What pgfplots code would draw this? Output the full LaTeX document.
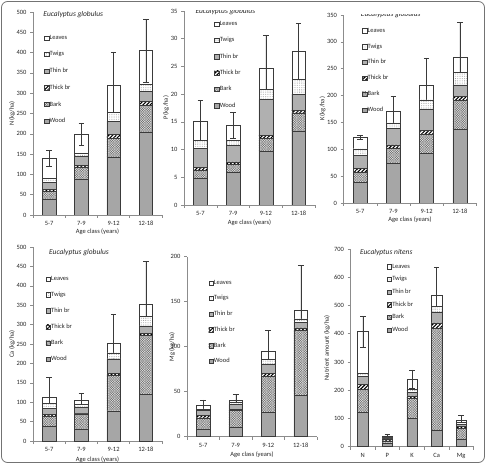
\documentclass[border=0pt]{standalone}
\usepackage{pgfplots}
\pgfplotsset{compat=1.18}
\usepackage{pgfplotstable}
\usepackage{fontspec}
\setmainfont{Carlito}
\usetikzlibrary{patterns,patterns.meta}

\definecolor{woodc}{HTML}{A6A6A6}
\definecolor{thinc}{HTML}{B0B0B0}
\definecolor{barkc}{HTML}{E2E2E2}
\definecolor{axisc}{HTML}{8C8C8C}
\definecolor{edgec}{HTML}{3A3A3A}

% segment heights per compartment (kg/ha), err = error of the total
\pgfplotstableread{
x wood bark thick thin twigs leaves err
0 40  19 5  17 10 48 20
1 88  29 5  22 7  49 27
2 143 46 9  33 21 68 82
3 205 65 10 24 17 84 78
}\tabN
\pgfplotstableread{
x wood bark thick thin twigs leaves err
0 4.8  1.4 0.6 3.4 1.5 3.5 3.7
1 5.9  1.4 0.5 2.9 0.9 2.8 2.3
2 9.7  2.3 0.6 6.4 1.9 3.8 6.0
3 13.3 3.3 0.5 2.9 2.7 5.0 5.1
}\tabP
\pgfplotstableread{
x wood bark thick thin twigs leaves err
0 39  18 7 25 12 21 4
1 74  28 6 31 10 22 27
2 92  36 7 40 17 28 50
3 137 54 7 22 23 28 65
}\tabK
\pgfplotstableread{
x wood bark thick thin twigs leaves err
0 38  26  5 16 12 17 50
1 30  40  2 15 7  11 17
2 78  91  6 37 15 26 73
3 121 151 6 19 25 31 110
}\tabCa
\pgfplotstableread{
x wood bark thick thin twigs leaves err
0 8  13 3 5  2 4  6
1 11 18 1 6  2 3  6
2 27 40 3 11 5 9  23
3 46 72 3 6  4 10 50
}\tabMg
\pgfplotstableread{
x wood bark thick thin twigs leaves err
0 122 81  18 27 12 148 55
1 14  7   7  3  2  5   7
2 100 71  9  13 10 37  32
3 60  360 18 39 20 40  100
4 27  39  5  9  5  10  15
}\tabNitens

\pgfplotsset{
  seg/.style={draw=edgec, line width=0.45pt},
  wood/.style={seg, fill=woodc},
  bark/.style={seg, fill=barkc,
    postaction={pattern={Hatch[angle=45,distance=1.7pt,line width=0.35pt]}, pattern color=black!55}},
  thick/.style={seg, fill=white,
    postaction={pattern={Lines[angle=45,distance=2.6pt,line width=1.1pt]}, pattern color=black}},
  thin/.style={seg, fill=thinc},
  twigs/.style={seg, fill=white,
    postaction={pattern={Dots[distance=1.8pt,radius=0.33pt]}, pattern color=black!55}},
  leaves/.style={seg, fill=white},
  panel/.style={
    scale only axis, anchor=south west,
    ybar stacked, bar width=0.42,
    ymin=0, xmin=-0.5,
    axis x line*=bottom, axis y line*=left,
    every outer x axis line/.append style={-},
    every outer y axis line/.append style={-},
    axis line style={axisc, line width=0.5pt},
    tick align=outside,
    major tick length=3bp, minor tick length=3bp,
    tick style={axisc, line width=0.5pt},
    major x tick style={draw=none},
    xtick pos=bottom, ytick pos=left,
    ticklabel style={font=\fontsize{6.5}{7}\selectfont, text=black!85},
    /pgf/number format/assume math mode=true,
    label style={font=\fontsize{6.5}{7}\selectfont, text=black!85},
    legend cell align=left,
    reverse legend,
    legend style={draw=none, fill=none, anchor=north west,
      font=\fontsize{6.5}{7}\selectfont, inner sep=0pt,
      nodes={inner sep=0.6bp, text=black!85}},
    legend image code/.code={\draw[##1] (0bp,-2.2bp) rectangle (4.4bp,2.2bp);},
    error bars/error bar style={edgec, line width=0.5pt},
    error bars/error mark options={edgec, rotate=90, mark size=2.8bp, line width=0.5pt},
  },
  fourcat/.style={xmax=3.5, xtick={0,1,2,3}, minor xtick={-0.5,0.5,1.5,2.5,3.5},
    xticklabels={5-7,7-9,9-12,12-18}, xlabel={Age class (years)}},
}

\newcommand{\stackbars}[1]{%
  \addplot[wood]  table[x=x,y=wood]{#1};
  \addplot[bark]  table[x=x,y=bark]{#1};
  \addplot[thick] table[x=x,y=thick]{#1};
  \addplot[thin]  table[x=x,y=thin]{#1};
  \addplot[twigs] table[x=x,y=twigs]{#1};
  \addplot[leaves, error bars/.cd, y dir=both, y explicit]
    table[x=x,y=leaves,y error=err]{#1};
  \legend{Wood,Bark,Thick br,Thin br,Twigs,Leaves}
}
\newcommand{\paneltitle}[3]{%
  \node[anchor=west, font=\fontsize{7.5}{8}\selectfont\itshape, text=black!85]
    at (axis description cs:#1,#2) {#3};}

\begin{document}
\begin{tikzpicture}
\useasboundingbox (0,0) rectangle (486bp,464bp);
\draw[rounded corners=6bp, black!55, line width=0.8pt] (1.5bp,1.5bp) rectangle (484.5bp,462.5bp);

% N
\begin{axis}[panel, fourcat, at={(33bp,249bp)}, width=129bp, height=203bp,
  ymax=500, ytick distance=50, ylabel={N (kg/ha)},
  ylabel style={at={(axis description cs:-0.163,0.5)}, anchor=center},
  xlabel style={at={(axis description cs:0.5,-0.084)}, anchor=center},
  legend style={at={(axis description cs:0.085,0.89)}, row sep=9.5bp}]
\stackbars{\tabN}
\paneltitle{0.054}{0.985}{Eucalyptus globulus}
\end{axis}

% P
\begin{axis}[panel, fourcat, at={(184bp,259bp)}, width=131bp, height=194bp,
  ymax=35, ytick distance=5, ylabel={P (kg/ha)},
  ylabel style={at={(axis description cs:-0.137,0.5)}, anchor=center},
  xlabel style={at={(axis description cs:0.5,-0.093)}, anchor=center},
  legend style={at={(axis description cs:0.23,0.95)}, row sep=9.1bp}]
\stackbars{\tabP}
\paneltitle{0.061}{0.998}{Eucalyptus globulus}
\end{axis}

% K
\begin{axis}[panel, fourcat, at={(343.5bp,261bp)}, width=133bp, height=188bp,
  ymax=350, ytick distance=50, ylabel={K (kg/ha)},
  ylabel style={at={(axis description cs:-0.158,0.5)}, anchor=center},
  xlabel style={at={(axis description cs:0.5,-0.09)}, anchor=center},
  legend style={at={(axis description cs:0.139,0.935)}, row sep=8.7bp}]
\stackbars{\tabK}
\paneltitle{0.105}{1.0}{Eucalyptus globulus}
\end{axis}

% Ca
\begin{axis}[panel, fourcat, at={(33bp,23bp)}, width=129bp, height=194bp,
  ymax=500, ytick distance=50, ylabel={Ca (kg/ha)},
  ylabel style={at={(axis description cs:-0.163,0.5)}, anchor=center},
  xlabel style={at={(axis description cs:0.5,-0.098)}, anchor=center},
  legend style={at={(axis description cs:0.097,0.854)}, row sep=8.9bp}]
\stackbars{\tabCa}
\paneltitle{0.098}{0.97}{Eucalyptus globulus}
\end{axis}

% Mg
\begin{axis}[panel, fourcat, at={(187bp,27.3bp)}, width=130bp, height=180bp,
  ymax=200, ytick distance=50, ylabel={Mg (kg/ha)},
  ylabel style={at={(axis description cs:-0.115,0.5)}, anchor=center},
  xlabel style={at={(axis description cs:0.5,-0.1)}, anchor=center},
  legend style={at={(axis description cs:0.164,0.874)}, row sep=8.5bp}]
\stackbars{\tabMg}
\paneltitle{0.075}{1.022}{Eucalyptus globulus}
\end{axis}

% E. nitens, all nutrients
\begin{axis}[panel, at={(350.5bp,17.3bp)}, width=123bp, height=197.7bp,
  xmax=4.5, xtick={0,1,2,3,4}, minor xtick={-0.5,0.5,1.5,2.5,3.5,4.5},
  xticklabels={N,P,K,Ca,Mg},
  ymax=700, ytick distance=100, ylabel={Nutrient amount (kg/ha)},
  ylabel style={at={(axis description cs:-0.191,0.5)}, anchor=center},
  legend style={at={(axis description cs:0.294,0.928)}, row sep=5.5bp}]
\stackbars{\tabNitens}
\paneltitle{0.049}{0.98}{Eucalyptus nitens}
\end{axis}
\end{tikzpicture}
\end{document}
